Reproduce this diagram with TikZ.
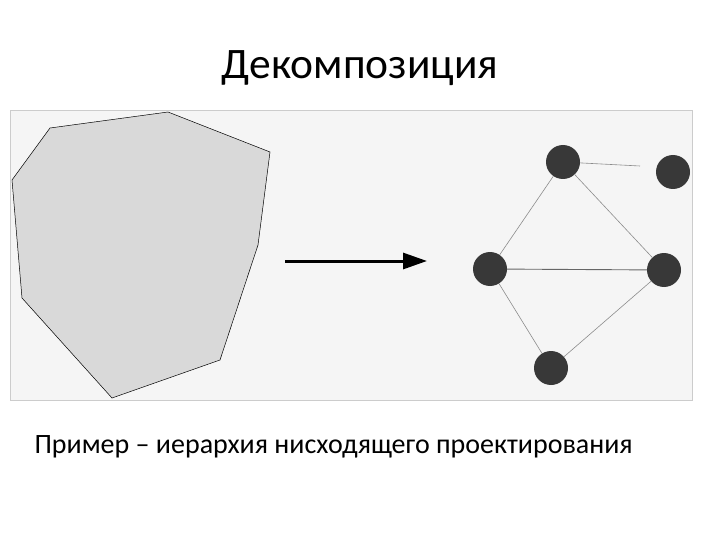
\documentclass[tikz,border=0pt]{standalone}
\usepackage{fontspec}
\setmainfont{Carlito}
\usetikzlibrary{arrows.meta}
\begin{document}
\begin{tikzpicture}[x=1pt,y=-1pt,
  vert/.style={circle,fill=black!78,minimum size=34pt,inner sep=0pt},
  edge/.style={draw=black!45,line width=0.6pt}]
\useasboundingbox (0,0) rectangle (720,540);
\node (title) at (360,68) {\fontsize{43.5}{50}\selectfont Декомпозиция};
\draw[fill=black!4,draw=black!20] (10,110) rectangle (692,400);
\draw[fill=black!15,draw=black,line width=0.5pt]
  (50,128)--(168,112)--(270,152)--(258,245)--(220,360)--(112,398)--(22,298)--(12,180)--cycle;
\coordinate (a1) at (285,261);
\coordinate (a2) at (427,261);
\draw[line width=3pt,-{Triangle[length=24pt,width=16pt]}] (a1)--(a2);
\begin{scope}
\clip (10,110) rectangle (692,400);
\node[vert] (t) at (563,162) {};
\node[vert] (r) at (673,172) {};
\node[vert] (l) at (490,269) {};
\node[vert] (m) at (664,270) {};
\node[vert] (b) at (551,368) {};
\end{scope}
\draw[edge] (t)--(l);
\draw[edge] (t)--(m);
\draw[edge] (l)--(b);
\draw[edge] (m)--(b);
\draw[draw=black!60,line width=0.9pt] (l)--(m);
\coordinate (re) at (640,166);
\draw[edge] (t)--(re);
\node[anchor=west] (cap) at (31,447) {\fontsize{28}{34}\selectfont Пример – иерархия нисходящего проектирования};
\end{tikzpicture}
\end{document}
